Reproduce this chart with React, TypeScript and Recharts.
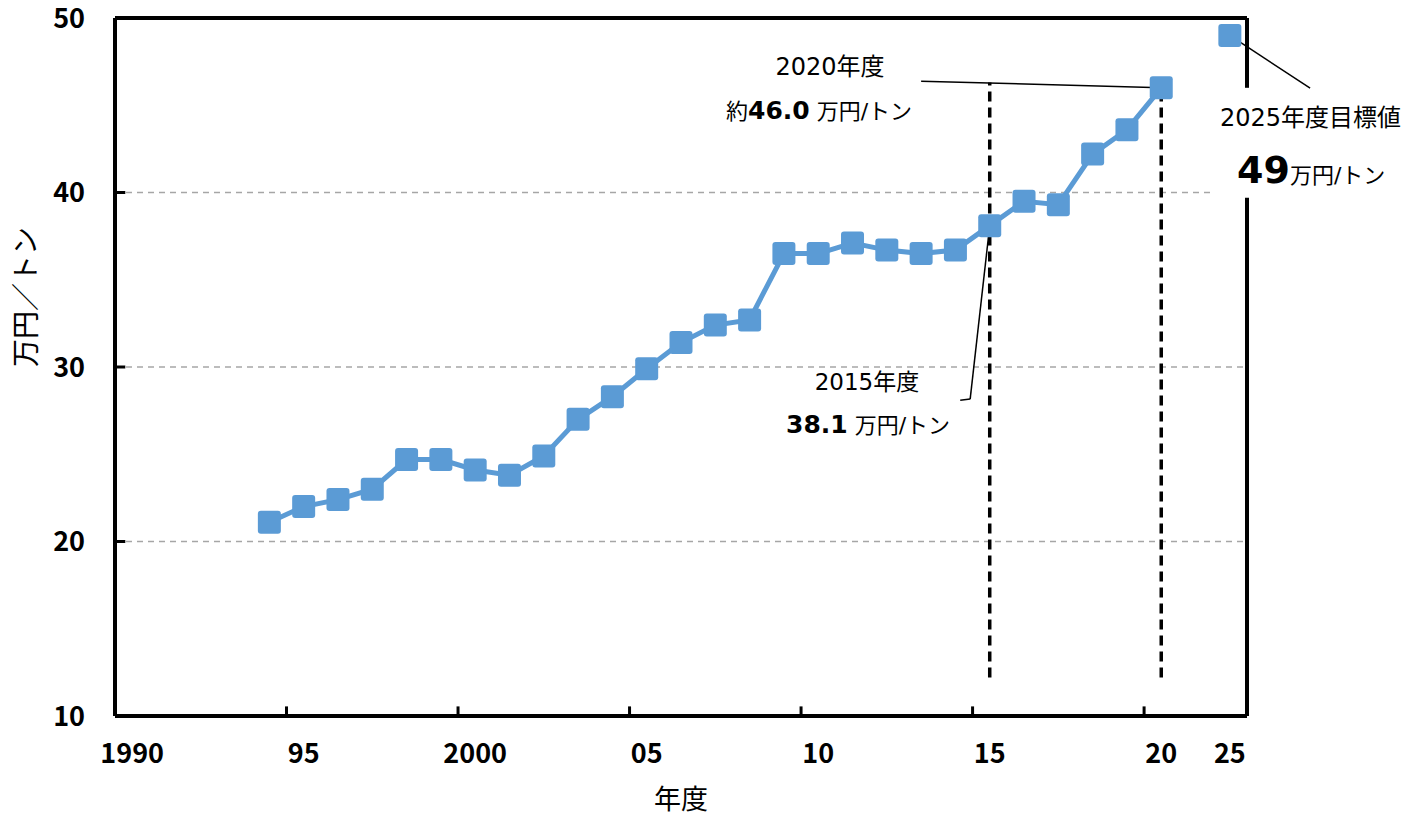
import React from 'react';
import {
  LineChart,
  Line,
  XAxis,
  YAxis,
  ReferenceLine
} from 'recharts';

// 年度別の値（万円/トン）
const fiscalYears = [
  1994, 1995, 1996, 1997, 1998, 1999, 2000, 2001, 2002, 2003, 2004, 2005, 2006, 2007,
  2008, 2009, 2010, 2011, 2012, 2013, 2014, 2015, 2016, 2017, 2018, 2019, 2020
];
const actualValues = [
  21.1, 22.0, 22.4, 23.0, 24.7, 24.7, 24.1, 23.8, 24.9, 27.0, 28.3, 29.9, 31.4, 32.4,
  32.7, 36.5, 36.5, 37.1, 36.7, 36.5, 36.7, 38.1, 39.5, 39.3, 42.2, 43.6, 46.0
];
const targetYear = 2025;
const targetValue = 49;

const xTickPositions = [0, 5, 10, 15, 20, 25, 30, 32];
const xTickLabels = ['1990', '95', '2000', '05', '10', '15', '20', '25'];
const yTicks = [10, 20, 30, 40, 50];

// 2020年度の後は軸を詰めて2025年度を置く
const toPos = (year: number) => (year <= 2020 ? year - 1990 : 32);

const data = [
  ...fiscalYears.map((y, i) => ({ pos: toPos(y), actual: actualValues[i] })),
  { pos: toPos(targetYear), target: targetValue }
];

const BLUE = '#5B9BD5';
const JP = '"Noto Sans CJK JP", "Noto Sans", sans-serif';
const NOTE = '"DejaVu Sans", "Noto Sans CJK JP", sans-serif';

const SquareDot = (props: any) => {
  const { cx, cy, value } = props;
  if (value == null || cx == null || cy == null) return null;
  const s = 23;
  return <rect x={cx - s / 2} y={cy - s / 2} width={s} height={s} rx={3} fill={BLUE} />;
};

const tickStyle = { fontSize: 27, fontWeight: 700, fill: '#000', fontFamily: JP };
const tickMark = { stroke: '#000', strokeWidth: 3, ifOverflow: 'visible' as const };

export default function App() {
  return (
    <div style={{ position: 'absolute', left: 0, top: 0, width: 1403, height: 817, background: '#fff', fontFamily: NOTE }}>
      <LineChart
        width={1403}
        height={817}
        data={data}
        margin={{ top: 18, right: 156, bottom: 0, left: 0 }}
      >
        <XAxis
          type="number"
          dataKey="pos"
          domain={[-0.5, 32.5]}
          ticks={xTickPositions}
          tickFormatter={(v: number) => xTickLabels[xTickPositions.indexOf(v)]}
          interval={0}
          tickLine={false}
          tickSize={0}
          tickMargin={28}
          axisLine={{ stroke: '#000', strokeWidth: 4 }}
          tick={tickStyle}
          height={101}
          label={{ value: '年度', position: 'insideBottom', offset: 8, fontSize: 27, fill: '#000', fontFamily: JP }}
        />
        <YAxis
          type="number"
          domain={[10, 50]}
          ticks={yTicks}
          interval={0}
          tickLine={false}
          tickSize={0}
          tickMargin={30}
          axisLine={{ stroke: '#000', strokeWidth: 4 }}
          tick={tickStyle}
          width={115}
          label={{ value: '万円／トン', angle: -90, position: 'insideLeft', offset: 26, fontSize: 28, fill: '#000', fontFamily: JP }}
        />

        {/* 目盛線（破線） */}
        <ReferenceLine segment={[{ x: -0.5, y: 20 }, { x: 32.5, y: 20 }]} stroke="#A6A6A6" strokeWidth={1.5} strokeDasharray="6 5" />
        <ReferenceLine segment={[{ x: -0.5, y: 30 }, { x: 32.5, y: 30 }]} stroke="#A6A6A6" strokeWidth={1.5} strokeDasharray="6 5" />
        <ReferenceLine segment={[{ x: -0.5, y: 40 }, { x: 31.5, y: 40 }]} stroke="#A6A6A6" strokeWidth={1.5} strokeDasharray="6 5" />

        {/* 内向きの目盛（区間の境目） */}
        <ReferenceLine segment={[{ x: 4.5, y: 10 }, { x: 4.5, y: 10.55 }]} {...tickMark} />
        <ReferenceLine segment={[{ x: 9.5, y: 10 }, { x: 9.5, y: 10.55 }]} {...tickMark} />
        <ReferenceLine segment={[{ x: 14.5, y: 10 }, { x: 14.5, y: 10.55 }]} {...tickMark} />
        <ReferenceLine segment={[{ x: 19.5, y: 10 }, { x: 19.5, y: 10.55 }]} {...tickMark} />
        <ReferenceLine segment={[{ x: 24.5, y: 10 }, { x: 24.5, y: 10.55 }]} {...tickMark} />
        <ReferenceLine segment={[{ x: 29.5, y: 10 }, { x: 29.5, y: 10.55 }]} {...tickMark} />
        <ReferenceLine segment={[{ x: -0.5, y: 20 }, { x: -0.2, y: 20 }]} {...tickMark} />
        <ReferenceLine segment={[{ x: -0.5, y: 30 }, { x: -0.2, y: 30 }]} {...tickMark} />
        <ReferenceLine segment={[{ x: -0.5, y: 40 }, { x: -0.2, y: 40 }]} {...tickMark} />

        {/* 枠線 */}
        <ReferenceLine y={50} stroke="#000" strokeWidth={4} />
        <ReferenceLine segment={[{ x: 32.5, y: 10 }, { x: 32.5, y: 39.7 }]} stroke="#000" strokeWidth={4} />
        <ReferenceLine segment={[{ x: 32.5, y: 46 }, { x: 32.5, y: 50 }]} stroke="#000" strokeWidth={4} />

        {/* 2015年度・2020年度の縦破線 */}
        <ReferenceLine segment={[{ x: 25, y: 12.2 }, { x: 25, y: 46.3 }]} stroke="#000" strokeWidth={3.5} strokeDasharray="10 6" />
        <ReferenceLine segment={[{ x: 30, y: 12.2 }, { x: 30, y: 46.3 }]} stroke="#000" strokeWidth={3.5} strokeDasharray="10 6" />

        <Line
          dataKey="actual"
          stroke={BLUE}
          strokeWidth={5}
          dot={<SquareDot />}
          activeDot={false}
          isAnimationActive={false}
        />
        <Line
          dataKey="target"
          stroke="none"
          dot={<SquareDot />}
          activeDot={false}
          isAnimationActive={false}
        />

        {/* 引き出し線 */}
        <ReferenceLine segment={[{ x: 23.0, y: 46.38 }, { x: 30, y: 46.0 }]} stroke="#000" strokeWidth={1.5} ifOverflow="visible" />
        <ReferenceLine segment={[{ x: 25, y: 38.1 }, { x: 24.43, y: 28.16 }]} stroke="#000" strokeWidth={1.5} ifOverflow="visible" />
        <ReferenceLine segment={[{ x: 24.43, y: 28.16 }, { x: 24.14, y: 28.1 }]} stroke="#000" strokeWidth={1.5} ifOverflow="visible" />
        <ReferenceLine segment={[{ x: 32, y: 49 }, { x: 34.34, y: 45.98 }]} stroke="#000" strokeWidth={1.5} ifOverflow="visible" />
      </LineChart>

      {/* 注記 */}
      <div style={{ position: 'absolute', left: 720, top: 49, width: 220, textAlign: 'center', fontSize: 24, lineHeight: '36px' }}>
        2020年度
      </div>
      <div style={{ position: 'absolute', left: 726, top: 93, fontSize: 22, lineHeight: '36px', whiteSpace: 'nowrap' }}>
        約<b style={{ fontSize: 25 }}>46.0</b> 万円/トン
      </div>
      <div style={{ position: 'absolute', left: 757, top: 364, width: 220, textAlign: 'center', fontSize: 23, lineHeight: '36px' }}>
        2015年度
      </div>
      <div style={{ position: 'absolute', left: 786, top: 407, fontSize: 22, lineHeight: '36px', whiteSpace: 'nowrap' }}>
        <b style={{ fontSize: 25 }}>38.1</b> 万円/トン
      </div>
      <div style={{ position: 'absolute', left: 1220, top: 100, fontSize: 24, lineHeight: '36px', whiteSpace: 'nowrap' }}>
        2025年度目標値
      </div>
      <div style={{ position: 'absolute', left: 1237, top: 142, fontSize: 22, lineHeight: '56px', whiteSpace: 'nowrap' }}>
        <b style={{ fontSize: 38 }}>49</b>万円/トン
      </div>
    </div>
  );
}
